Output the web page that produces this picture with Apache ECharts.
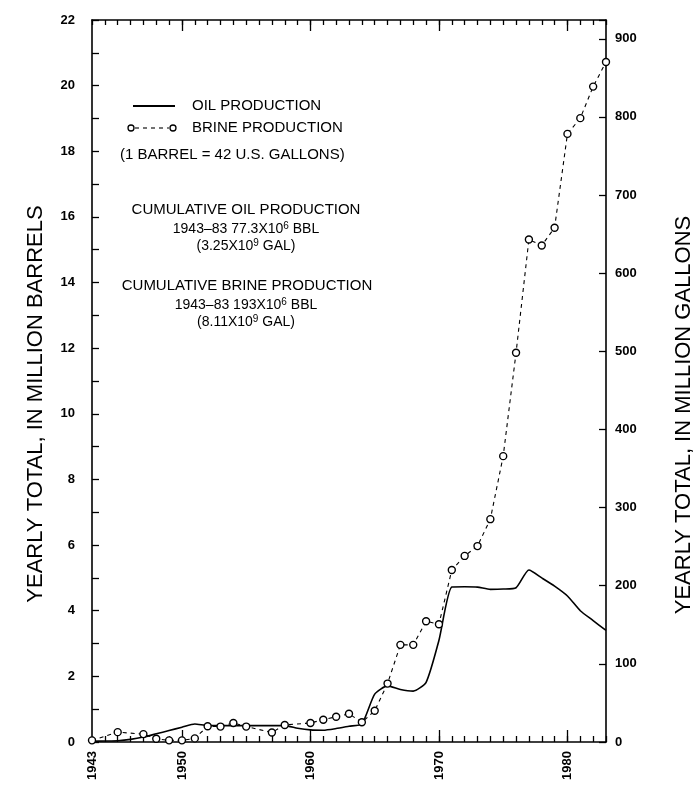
<!DOCTYPE html>
<html><head><meta charset="utf-8">
<script src="https://cdn.jsdelivr.net/npm/echarts@6/dist/echarts.min.js"></script>
<style>html,body{margin:0;padding:0;background:#fff}#c{width:694px;height:788px}</style>
</head><body><div id="c"></div>
<script>
// Years and yearly oil production (million barrels)
const oilYears = [1943,1944,1945,1946,1947,1948,1949,1950,1951,1952,1953,1954,1955,1956,1957,1958,1959,1960,1961,1962,1963,1964,1965,1966,1967,1968,1969,1970,1971,1972,1973,1974,1975,1976,1977,1978,1979,1980,1981,1982,1983];
const oilValues = [0.02,0.03,0.04,0.08,0.15,0.25,0.35,0.45,0.55,0.50,0.50,0.50,0.50,0.50,0.50,0.50,0.42,0.37,0.36,0.41,0.48,0.55,1.46,1.71,1.60,1.55,1.82,3.10,4.72,4.73,4.72,4.65,4.66,4.70,5.24,5.00,4.75,4.45,4.00,3.70,3.40];
// Yearly brine production (million barrels)
const brineYears = [1943,1945,1947,1948,1949,1950,1951,1952,1953,1954,1955,1957,1958,1960,1961,1962,1963,1964,1965,1966,1967,1968,1969,1970,1971,1972,1973,1974,1975,1976,1977,1978,1979,1980,1981,1982,1983];
const brineValues = [0.05,0.30,0.24,0.10,0.05,0.05,0.11,0.48,0.47,0.58,0.47,0.29,0.52,0.58,0.68,0.77,0.86,0.60,0.95,1.78,2.96,2.96,3.68,3.59,5.24,5.67,5.97,6.79,8.71,11.86,15.31,15.13,15.67,18.53,19.01,19.97,20.72];
// Axis ticks / labels
const xLabelYears = [1943,1950,1960,1970,1980];
const majorYears = [1950,1960,1970,1980];
const xMin = 1943, xMax = 1983;
const leftMax = 22;              // million barrels
const gallonsPerBarrel = 42;     // right axis = left * 42 (million gallons)
const rightLabelStep = 100;

const FF = '"Liberation Sans", Arial, Helvetica, sans-serif';
const BLACK = '#000';

const chart = echarts.init(document.getElementById('c'), null, {renderer: 'canvas'});

const xBase = {type: 'value', min: xMin, max: xMax, gridIndex: 0, splitLine: {show: false}};
const lineS = {color: BLACK, width: 1.6};
const tickS = {color: BLACK, width: 1.3};

const option = {
  backgroundColor: '#fff',
  animation: false,
  grid: {left: 92, right: 88, top: 20, bottom: 46, containLabel: false},
  xAxis: [
    Object.assign({}, xBase, {
      position: 'bottom', interval: 1,
      axisLine: {show: true, lineStyle: lineS},
      axisTick: {show: true, inside: true, length: 6, lineStyle: tickS},
      axisLabel: {show: true, rotate: 90, margin: 9, color: BLACK, fontWeight: 'bold', fontSize: 13, fontFamily: FF,
        formatter: v => xLabelYears.indexOf(v) >= 0 ? String(v) : ''}
    }),
    Object.assign({}, xBase, {
      position: 'bottom',
      axisLine: {show: false},
      axisTick: {show: true, inside: true, length: 12, customValues: majorYears, lineStyle: tickS},
      axisLabel: {show: false}
    }),
    Object.assign({}, xBase, {
      position: 'top', interval: 1,
      axisLine: {show: true, lineStyle: lineS},
      axisTick: {show: true, inside: true, length: 5, lineStyle: tickS},
      axisLabel: {show: false}
    }),
    Object.assign({}, xBase, {
      position: 'top',
      axisLine: {show: false},
      axisTick: {show: true, inside: true, length: 11, customValues: majorYears, lineStyle: tickS},
      axisLabel: {show: false}
    })
  ],
  yAxis: [
    {
      type: 'value', position: 'left', min: 0, max: leftMax, interval: 1,
      splitLine: {show: false},
      axisLine: {show: true, lineStyle: lineS},
      axisTick: {show: true, inside: true, length: 7, lineStyle: tickS},
      axisLabel: {show: true, margin: 17, color: BLACK, fontWeight: 'bold', fontSize: 13, fontFamily: FF,
        formatter: v => (v % 2 === 0 ? String(v) : '')}
    },
    {
      type: 'value', position: 'right', min: 0, max: leftMax * gallonsPerBarrel, interval: rightLabelStep,
      splitLine: {show: false},
      axisLine: {show: true, lineStyle: lineS},
      axisTick: {show: true, inside: true, length: 7, lineStyle: tickS},
      axisLabel: {show: true, margin: 9, color: BLACK, fontWeight: 'bold', fontSize: 13, fontFamily: FF,
        formatter: v => (v % rightLabelStep === 0 ? String(v) : '')}
    }
  ],
  series: [
    {
      name: 'OIL PRODUCTION', type: 'line', xAxisIndex: 0, yAxisIndex: 0,
      data: oilYears.map((y, i) => [y, oilValues[i]]),
      showSymbol: false, smooth: 0.2,
      lineStyle: {color: BLACK, width: 1.6}, z: 3
    },
    {
      name: 'BRINE PRODUCTION', type: 'line', xAxisIndex: 0, yAxisIndex: 0,
      data: brineYears.map((y, i) => [y, brineValues[i]]),
      symbol: 'circle', symbolSize: 7, showSymbol: true,
      itemStyle: {color: '#fff', borderColor: BLACK, borderWidth: 1.4},
      lineStyle: {color: BLACK, width: 1.1, type: [4, 4]}, z: 4
    }
  ],
  graphic: [
    // legend
    {type: 'line', shape: {x1: 133, y1: 106, x2: 175, y2: 106}, style: {stroke: BLACK, lineWidth: 1.8}},
    {type: 'line', shape: {x1: 135, y1: 128, x2: 169, y2: 128}, style: {stroke: BLACK, lineWidth: 1.1, lineDash: [4, 4]}},
    {type: 'circle', shape: {cx: 131, cy: 128, r: 3}, style: {fill: '#fff', stroke: BLACK, lineWidth: 1.3}},
    {type: 'circle', shape: {cx: 173, cy: 128, r: 3}, style: {fill: '#fff', stroke: BLACK, lineWidth: 1.3}},
    {type: 'text', x: 192, y: 106, style: {text: 'OIL PRODUCTION', fontSize: 15, fontFamily: FF, fill: BLACK, textVerticalAlign: 'middle'}},
    {type: 'text', x: 192, y: 128, style: {text: 'BRINE PRODUCTION', fontSize: 15, fontFamily: FF, fill: BLACK, textVerticalAlign: 'middle'}},
    {type: 'text', x: 120, y: 155, style: {text: '(1 BARREL = 42 U.S. GALLONS)', fontSize: 15, fontFamily: FF, fill: BLACK, textVerticalAlign: 'middle'}},
    // cumulative notes
    {type: 'text', x: 246, y: 210, style: {text: 'CUMULATIVE OIL PRODUCTION', fontSize: 15, fontFamily: FF, fill: BLACK, textAlign: 'center', textVerticalAlign: 'middle'}},
    {type: 'text', x: 246, y: 229, style: {text: '1943–83 77.3X10{s|6} BBL', fontSize: 14, fontFamily: FF, fill: BLACK, textAlign: 'center', textVerticalAlign: 'middle',
      rich: {s: {fontSize: 10, fontFamily: FF, verticalAlign: 'top', lineHeight: 16}}}},
    {type: 'text', x: 246, y: 246, style: {text: '(3.25X10{s|9} GAL)', fontSize: 14, fontFamily: FF, fill: BLACK, textAlign: 'center', textVerticalAlign: 'middle',
      rich: {s: {fontSize: 10, fontFamily: FF, verticalAlign: 'top', lineHeight: 16}}}},
    {type: 'text', x: 247, y: 286, style: {text: 'CUMULATIVE BRINE PRODUCTION', fontSize: 15, fontFamily: FF, fill: BLACK, textAlign: 'center', textVerticalAlign: 'middle'}},
    {type: 'text', x: 246, y: 305, style: {text: '1943–83 193X10{s|6} BBL', fontSize: 14, fontFamily: FF, fill: BLACK, textAlign: 'center', textVerticalAlign: 'middle',
      rich: {s: {fontSize: 10, fontFamily: FF, verticalAlign: 'top', lineHeight: 16}}}},
    {type: 'text', x: 246, y: 322, style: {text: '(8.11X10{s|9} GAL)', fontSize: 14, fontFamily: FF, fill: BLACK, textAlign: 'center', textVerticalAlign: 'middle',
      rich: {s: {fontSize: 10, fontFamily: FF, verticalAlign: 'top', lineHeight: 16}}}},
    // axis titles
    {type: 'text', x: 36, y: 404, rotation: Math.PI / 2, style: {text: 'YEARLY TOTAL, IN MILLION BARRELS', fontSize: 22, fontFamily: FF, fill: BLACK, textAlign: 'center', textVerticalAlign: 'middle'}},
    {type: 'text', x: 684, y: 415, rotation: Math.PI / 2, style: {text: 'YEARLY TOTAL, IN MILLION GALLONS', fontSize: 22, fontFamily: FF, fill: BLACK, textAlign: 'center', textVerticalAlign: 'middle'}}
  ]
};
chart.setOption(option);
</script>
</body></html>
